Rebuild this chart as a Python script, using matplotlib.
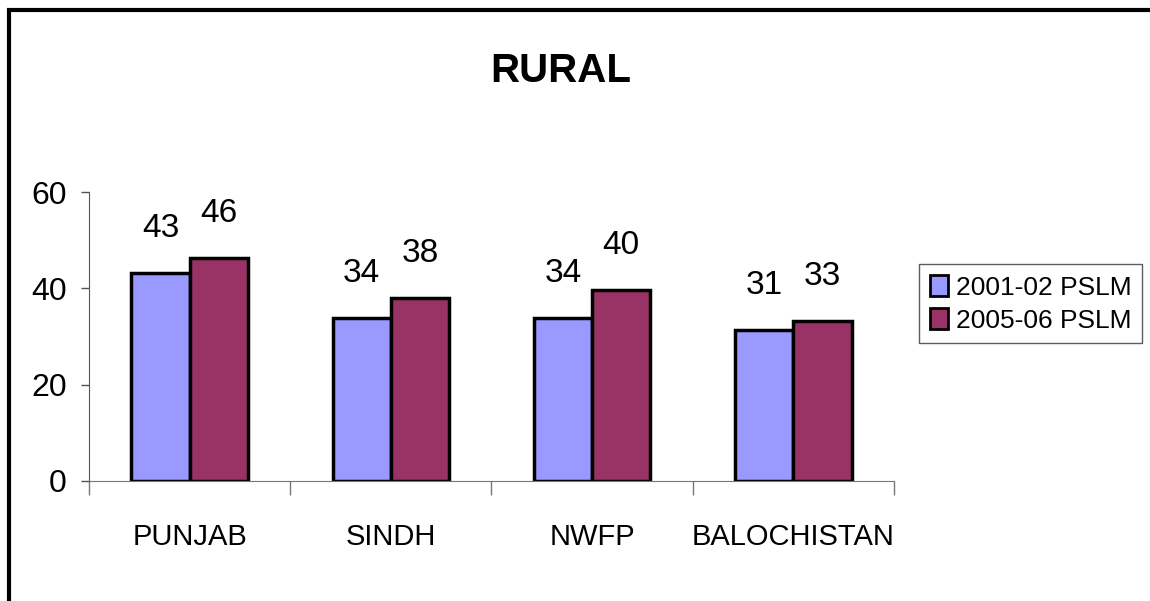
import matplotlib
matplotlib.use("Agg")
import matplotlib.pyplot as plt
import numpy as np
from matplotlib.patches import Rectangle

plt.rcParams['font.family'] = ['Liberation Sans', 'DejaVu Sans']

regions = ["PUNJAB", "SINDH", "NWFP", "BALOCHISTAN"]
pslm_2001 = [43.1, 33.8, 33.8, 31.3]
pslm_2005 = [46.3, 38.0, 39.7, 33.2]
series_names = ["2001-02 PSLM", "2005-06 PSLM"]
yticks = [0, 20, 40, 60]

fig = plt.figure(figsize=(11.5, 6.01), dpi=100)
ax = fig.add_axes([89/1150, 1 - 481/601, (894-89)/1150, (481-192)/601])

x = np.arange(len(regions))
w = 0.29
b1 = ax.bar(x - w/2, pslm_2001, w, color='#9999FF', edgecolor='black', linewidth=2.5, label=series_names[0])
b2 = ax.bar(x + w/2, pslm_2005, w, color='#993366', edgecolor='black', linewidth=2.5, label=series_names[1])

# value labels above bars
for bars in (b1, b2):
    for r in bars:
        ax.annotate("%.0f" % r.get_height(), (r.get_x() + r.get_width()/2, r.get_height()),
                    xytext=(0, 32), textcoords='offset points', ha='center', va='center',
                    fontsize=24)

ax.set_xlim(-0.5, len(regions) - 0.5)
ax.set_ylim(0, 60)
ax.set_yticks(yticks)
ax.tick_params(axis='y', labelsize=23, length=6, width=1, color='#555555', pad=10)
ax.set_xticks(x)
ax.set_xticklabels(regions)
ax.set_xticks(np.arange(-0.5, len(regions), 1), minor=True)
ax.tick_params(axis='x', which='major', length=0, labelsize=21, pad=30)
ax.tick_params(axis='x', which='minor', length=10, width=1, color='#777777')
for s in ['top', 'right']:
    ax.spines[s].set_visible(False)
ax.spines['left'].set_color('#555555')
ax.spines['bottom'].set_color('#777777')

fig.text(561/1150, 1 - 71/601, "RURAL", ha='center', va='center', fontsize=29, fontweight='bold')

leg = fig.legend(handles=[b1, b2], loc='upper left', bbox_to_anchor=(919/1150, 1 - 264/601),
                 fontsize=19, frameon=True, fancybox=False, handlelength=0.7, handleheight=0.9,
                 handletextpad=0.3, borderpad=0.4, labelspacing=0.3, borderaxespad=0)
leg.get_frame().set_edgecolor('#333333')
leg.get_frame().set_linewidth(1)
for p in leg.get_patches():
    p.set_linewidth(2)

# outer chart border (right and bottom edges fall outside the image)
fig.patches.append(Rectangle((9/1150, -0.1), 1.2, 1 - 10/601 + 0.1, transform=fig.transFigure,
                             fill=False, edgecolor='black', linewidth=3))

fig.savefig("out.png", dpi=100)
